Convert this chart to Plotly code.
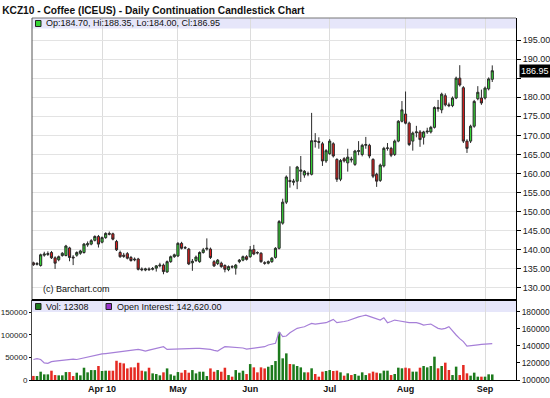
import plotly.graph_objects as go
import pandas as pd

# ---------------- data ----------------
holidays = ["2010-04-02", "2010-05-31", "2010-07-05"]
dates = [d.strftime("%Y-%m-%d") for d in pd.bdate_range("2010-03-05", "2010-09-03")
         if d.strftime("%Y-%m-%d") not in holidays]

opens = [136.6, 136.2, 135.9, 138.6, 138.8, 139.3, 137.9, 137.4, 138.5, 138.5,
         140.5, 138.1, 138.6, 139.1, 139.3, 141.3, 141.5, 142.5, 143.5, 142.0,
         143.2, 144.3, 144.2, 142.2, 139.3, 138.6, 139.0, 138.0, 137.6, 137.6,
         135.0, 134.7, 135.0, 134.9, 135.2, 135.8, 136.0, 134.2, 136.9, 138.2,
         138.4, 141.7, 140.6, 140.2, 136.6, 137.2, 136.9, 139.3, 140.2, 140.2,
         136.9, 136.4, 136.5, 135.9, 134.8, 135.6, 135.2, 136.9, 137.3, 138.2,
         138.2, 140.1, 139.3, 139.1, 136.6, 136.5, 136.9, 138.0, 140.4, 147.0,
         152.5, 158.2, 157.7, 158.0, 160.6, 159.6, 160.0, 159.8, 168.6, 168.4,
         167.8, 163.3, 165.2, 167.8, 163.7, 158.5, 163.9, 162.8, 163.8, 162.4,
         165.8, 165.0, 167.4, 167.4, 163.7, 159.8, 158.2, 162.0, 166.6, 166.6,
         165.0, 168.5, 173.7, 175.6, 173.2, 168.5, 170.7, 170.9, 169.5, 170.9,
         170.9, 172.1, 177.3, 176.7, 180.4, 178.0, 177.8, 179.8, 185.0, 182.5,
         168.5, 168.5, 172.4, 179.6, 179.8, 179.8, 182.2, 184.70]
highs = [136.9, 136.8, 139.0, 139.5, 139.6, 139.7, 138.3, 138.5, 139.4, 141.3,
         140.8, 138.6, 139.6, 140.0, 141.8, 142.2, 142.8, 143.8, 143.9, 143.5,
         144.6, 144.8, 144.5, 142.6, 139.8, 139.2, 139.4, 138.4, 138.0, 137.9,
         135.4, 135.3, 135.4, 135.5, 136.0, 136.6, 136.4, 137.2, 138.5, 139.0,
         142.0, 142.1, 141.0, 140.5, 137.6, 138.5, 139.6, 140.5, 143.0, 140.6,
         137.3, 137.6, 136.9, 136.2, 135.9, 136.0, 136.3, 137.6, 138.5, 138.6,
         141.0, 141.3, 139.6, 139.4, 137.0, 137.2, 138.1, 140.7, 147.8, 153.4,
         159.5, 161.9, 158.6, 162.0, 164.6, 160.9, 160.5, 175.9, 170.6, 169.5,
         168.3, 166.4, 169.0, 168.2, 164.0, 163.8, 164.3, 166.5, 164.4, 166.2,
         168.5, 167.8, 169.6, 167.8, 164.0, 160.2, 162.6, 167.0, 168.0, 167.0,
         168.9, 174.0, 179.0, 181.5, 173.6, 171.0, 172.5, 171.4, 171.2, 172.0,
         172.5, 177.6, 179.3, 181.2, 181.0, 178.6, 180.2, 185.4, 188.4, 182.9,
         169.0, 172.8, 179.3, 182.9, 182.0, 182.8, 185.2, 188.35]
lows = [135.8, 135.9, 135.6, 138.2, 138.4, 137.6, 135.0, 137.0, 138.2, 138.3,
        137.0, 136.0, 138.2, 138.7, 139.0, 140.8, 141.2, 142.2, 140.6, 141.7,
        142.9, 143.8, 142.5, 139.7, 137.9, 137.9, 137.5, 136.9, 137.0, 134.6,
        134.4, 134.4, 134.5, 134.6, 134.3, 135.4, 133.6, 134.0, 136.6, 137.9,
        138.1, 140.1, 140.2, 136.0, 134.5, 136.8, 136.6, 139.0, 139.8, 137.6,
        135.5, 136.0, 135.3, 134.1, 134.4, 135.1, 133.5, 136.5, 137.0, 137.2,
        137.9, 138.6, 138.8, 136.6, 136.1, 136.2, 136.6, 137.7, 140.1, 146.6,
        152.0, 156.3, 156.9, 155.9, 157.8, 158.9, 159.3, 159.5, 166.8, 166.5,
        162.0, 162.8, 164.9, 164.2, 157.8, 158.0, 162.9, 160.5, 162.9, 162.0,
        164.8, 164.5, 166.5, 164.0, 158.8, 156.5, 157.8, 161.6, 166.0, 164.3,
        164.6, 168.2, 173.4, 172.9, 167.2, 166.0, 169.5, 167.0, 167.6, 170.4,
        170.5, 171.8, 176.2, 175.8, 177.6, 177.4, 177.4, 179.5, 182.8, 168.0,
        165.4, 168.0, 172.0, 179.2, 178.0, 179.4, 181.8, 184.00]
closes = [136.1, 136.4, 138.7, 138.9, 139.0, 137.9, 136.5, 138.2, 139.1, 141.0,
          138.0, 137.9, 139.3, 139.7, 141.5, 141.6, 142.4, 143.5, 141.5, 143.2,
          144.3, 144.1, 142.8, 140.0, 138.2, 138.3, 137.8, 137.2, 137.4, 134.9,
          134.8, 135.0, 134.8, 135.1, 135.8, 136.0, 134.3, 136.9, 138.2, 138.7,
          141.7, 140.4, 140.5, 136.3, 137.0, 138.1, 139.3, 140.0, 140.4, 138.0,
          135.8, 137.3, 135.6, 134.9, 135.6, 135.5, 136.0, 137.3, 138.2, 137.5,
          140.0, 138.9, 139.2, 136.9, 136.5, 136.9, 137.8, 140.4, 147.4, 152.5,
          159.1, 157.9, 158.0, 161.7, 160.9, 160.6, 159.9, 168.6, 168.4, 168.2,
          163.3, 166.0, 168.5, 164.6, 158.5, 163.4, 163.3, 164.3, 163.6, 165.9,
          166.0, 167.4, 167.6, 164.6, 159.3, 158.0, 162.2, 166.6, 166.7, 164.8,
          168.5, 173.7, 176.7, 173.2, 167.6, 170.6, 170.9, 168.9, 170.9, 171.1,
          172.1, 177.3, 177.0, 180.8, 178.0, 177.8, 179.8, 185.0, 183.2, 168.5,
          166.6, 172.4, 178.9, 181.3, 178.5, 182.4, 184.8, 186.95]
volume = [9000, 8800, 18400, 12500, 12500, 20600, 11000, 10300, 10300, 17600,
          17600, 8800, 16200, 10300, 27200, 17000, 22000, 22000, 31000, 20000,
          20600, 20600, 20600, 42600, 38200, 36800, 25700, 28000, 28000, 38200,
          20600, 19100, 27200, 14700, 13200, 10300, 17000, 25700, 12500, 9600,
          17600, 16200, 22000, 16200, 22000, 14700, 18400, 18400, 8800, 25700,
          18400, 22000, 18400, 27200, 11000, 7400, 22000, 16200, 20600, 13200,
          35300, 28000, 17000, 28000, 25700, 29400, 33100, 42000, 105700, 48000,
          59000, 35500, 34700, 31000, 28000, 17000, 17000, 25900, 13300, 7400,
          18500, 20000, 22000, 20000, 20700, 17000, 9600, 14800, 11000, 13300,
          9600, 17000, 11000, 14800, 18500, 16300, 14800, 20700, 20700, 11000,
          13300, 27300, 25900, 27300, 25900, 18500, 18500, 27300, 31000, 28000,
          31000, 51700, 25900, 31000, 38400, 22200, 11000, 29600, 11000, 33300,
          14800, 9600, 16300, 7400, 7400, 7400, 12600, 12308]
open_interest = [124000, 125000, 124000, 120000, 119500, 121500, 122000, 122500, 123000, 123400,
                 124000, 124500, 124000, 125000, 125500, 126500, 127300, 128500, 130000, 130500,
                 131000, 131500, 132000, 132500, 133000, 133500, 134000, 135000, 135500, 135800,
                 135000, 133800, 135000, 135800, 137000, 138000, 139000, 135800, 136000, 136500,
                 136600, 136800, 137000, 137200, 136800, 137000, 137000, 136800, 136500, 135800,
                 134800, 133900, 136500, 139000, 138800, 138500, 138300, 138200, 137500, 136200,
                 136800, 137500, 137800, 138200, 139000, 141000, 142000, 143000, 156500, 150700,
                 151500, 155400, 158000, 160500, 161500, 162400, 164500, 166300, 165500, 165800,
                 166500, 167100, 169000, 171000, 167100, 168200, 168500, 169400, 171000, 172900,
                 174000, 175000, 176000, 174500, 172900, 171500, 170200, 172900, 167100, 168500,
                 170200, 169400, 168500, 167500, 167100, 167100, 167100, 166000, 164400, 165000,
                 165500, 163000, 160500, 159700, 160500, 162400, 157000, 152700, 148500, 144900,
                 139800, 140500, 141000, 141200, 141700, 142000, 142900, 142620]

month_ticks = ["2010-04-01", "2010-05-03", "2010-06-01", "2010-07-01", "2010-08-02", "2010-09-01"]
month_labels = ["Apr 10", "May", "Jun", "Jul", "Aug", "Sep"]
price_ticks = [130, 135, 140, 145, 150, 155, 160, 165, 170, 175, 180, 185, 190, 195]
vol_ticks = [0, 50000, 100000, 150000]
oi_ticks = [100000, 120000, 140000, 160000, 180000]

# ---------------- geometry helpers (pixel -> paper) ----------------
W, H = 550, 398
L, R, T, B = 32, 34, 18, 18
PW, PH = W - L - R, H - T - B


def px(x):
    return (x - L) / PW


def py(y):
    return (H - B - y) / PH


SPLIT = py(300)

GREEN = "#35d435"
RED = "#dc1c1c"
VGREEN = "#1c7a1c"
VRED = "#e52a22"
PURPLE = "#a67fd8"

vol_colors = [VGREEN if c >= o else VRED for o, c in zip(opens, closes)]
# the last-price box takes the place of the nearest price label
price_labels = ["" if abs(t - closes[-1]) < 2.5 else f"{t:.2f}" for t in price_ticks]

fig = go.Figure()
fig.add_trace(go.Candlestick(
    x=dates, open=opens, high=highs, low=lows, close=closes,
    xaxis="x", yaxis="y", whiskerwidth=0,
    increasing=dict(fillcolor=GREEN, line=dict(color="#2a2a2a", width=1)),
    decreasing=dict(fillcolor=RED, line=dict(color="#2a2a2a", width=1)),
    hoverinfo="skip",
))
fig.add_trace(go.Bar(
    x=dates, y=volume, xaxis="x2", yaxis="y2",
    marker=dict(color=vol_colors, line=dict(width=0)), hoverinfo="skip",
))
fig.add_trace(go.Scatter(
    x=dates, y=open_interest, xaxis="x2", yaxis="y3", mode="lines",
    line=dict(color=PURPLE, width=1.2), hoverinfo="skip",
))

grid = "#dcdcdc"
FAM = "Liberation Sans, Arial, sans-serif"
tickfont = dict(family=FAM, size=9, color="#222")
voltickfont = dict(family=FAM, size=8.4, color="#222")
lefttickfont = dict(family=FAM, size=8, color="#222")

fig.update_layout(
    width=W, height=H, margin=dict(l=L, r=R, t=T, b=B, autoexpand=False),
    paper_bgcolor="white", plot_bgcolor="white", showlegend=False,
    boxgap=0.15, bargap=0.3,
    font=dict(family=FAM, size=9, color="#222"),
    title=dict(text="<b>KCZ10 - Coffee (ICEUS) - Daily Continuation Candlestick Chart</b>",
               x=0.004, xanchor="left", y=1 - 10 / H, yanchor="middle",
               font=dict(family=FAM, size=10.2, color="#111")),
    xaxis=dict(type="category", range=[-0.39, 133.57], domain=[0, 1], anchor="y",
               tickvals=month_ticks, showticklabels=False, showgrid=True, gridcolor=grid,
               ticks="", zeroline=False, rangeslider=dict(visible=False), automargin=False),
    xaxis2=dict(type="category", matches="x", anchor="y2", domain=[0, 1],
                tickvals=month_ticks, ticktext=[f"<b>{t}</b>" for t in month_labels],
                showgrid=True, gridcolor=grid, ticks="", showline=True, linecolor="#000",
                tickfont=dict(family=FAM, size=9, color="#111"),
                zeroline=False, automargin=False),
    yaxis=dict(domain=[SPLIT, 1], range=[126.85, 200.77], side="right", anchor="x",
               tickvals=price_ticks, ticktext=price_labels, ticks="outside", ticklen=4,
               tickcolor="#000", showline=True, linecolor="#000", showgrid=True,
               gridcolor="#e3e3e3", zeroline=False, tickfont=tickfont, automargin=False),
    yaxis2=dict(domain=[0, SPLIT], range=[0, 177250], side="left", anchor="x2",
                tickvals=vol_ticks, tickformat="d", ticks="outside", ticklen=2, tickcolor="#000",
                showline=True, linecolor="#444", showgrid=False, zeroline=False,
                tickfont=lefttickfont, automargin=False),
    yaxis3=dict(overlaying="y2", side="right", anchor="x2", range=[100000, 193700],
                tickvals=oi_ticks, tickformat="d", ticks="outside", ticklen=3, tickcolor="#000",
                showline=True, linecolor="#000", showgrid=False, zeroline=False,
                tickfont=voltickfont, automargin=False),
)

shapes = [
    # legend bands
    dict(type="rect", xref="paper", yref="paper", x0=0, x1=1, y0=py(28.5), y1=1,
         fillcolor="#e6e6fa", line=dict(width=0), layer="below"),
    dict(type="rect", xref="paper", yref="paper", x0=0, x1=1, y0=py(312), y1=SPLIT,
         fillcolor="#e6e6fa", line=dict(width=0), layer="below"),
    # frame lines
    dict(type="line", xref="paper", yref="paper", x0=0, x1=1, y0=1, y1=1,
         line=dict(color="#777", width=1)),
    dict(type="line", xref="paper", yref="paper", x0=0, x1=0, y0=SPLIT, y1=1,
         line=dict(color="#555", width=1)),
    dict(type="line", xref="paper", yref="paper", x0=0, x1=1, y0=SPLIT, y1=SPLIT,
         line=dict(color="#000", width=2)),
    # legend squares
    dict(type="rect", xref="paper", yref="paper", x0=px(35.5), x1=px(41), y0=py(26.5), y1=py(20.5),
         fillcolor=GREEN, line=dict(color="#222", width=1)),
    dict(type="rect", xref="paper", yref="paper", x0=px(35.5), x1=px(41), y0=py(309.5), y1=py(303.5),
         fillcolor=VGREEN, line=dict(color="#222", width=1)),
    dict(type="rect", xref="paper", yref="paper", x0=px(106), x1=px(111.5), y0=py(309.5), y1=py(303.5),
         fillcolor="#9933cc", line=dict(color="#222", width=1)),
]
fig.update_layout(shapes=shapes)

ann_font = dict(family=FAM, size=9, color="#111")
annotations = [
    dict(text=f"Op:{opens[-1]:.2f}, Hi:{highs[-1]:.2f}, Lo:{lows[-1]:.2f}, Cl:{closes[-1]:.2f}",
         xref="paper", yref="paper", x=px(44), y=py(23.5), xanchor="left", yanchor="middle",
         showarrow=False, font=ann_font),
    dict(text="(c) Barchart.com", xref="paper", yref="paper", x=px(41), y=py(289),
         xanchor="left", yanchor="middle", showarrow=False, font=ann_font),
    dict(text=f"Vol: {volume[-1]}", xref="paper", yref="paper", x=px(44), y=py(306.5),
         xanchor="left", yanchor="middle", showarrow=False, font=ann_font),
    dict(text=f"Open Interest: {open_interest[-1]:,.2f}", xref="paper", yref="paper",
         x=px(114.5), y=py(306.5), xanchor="left", yanchor="middle", showarrow=False, font=ann_font),
    dict(text=f"{closes[-1]:.2f}", xref="paper", yref="y", x=1, xshift=3, y=closes[-1],
         xanchor="left", yanchor="middle", showarrow=False, bgcolor="#000", borderpad=1,
         font=dict(family=FAM, size=9, color="#fff")),
]
fig.update_layout(annotations=annotations)

fig.write_html(
    "out.html",
    config={"displayModeBar": False},
    post_script="document.body.style.margin='0';document.body.style.padding='0';"
                "document.documentElement.style.margin='0';",
)
